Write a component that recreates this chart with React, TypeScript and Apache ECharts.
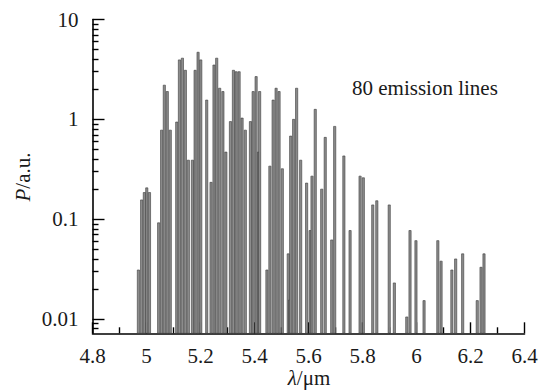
import React, { useEffect, useRef } from "react";
import * as echarts from "echarts";

// Emission line wavelengths (µm) and relative powers (a.u.)
const lambda = [
  4.970, 4.982, 4.992, 5.001, 5.011,
  5.045, 5.056, 5.066, 5.077, 5.088,
  5.112, 5.122, 5.133, 5.144, 5.155, 5.170, 5.180, 5.191, 5.201,
  5.223, 5.239, 5.250, 5.260, 5.271, 5.283, 5.294,
  5.311, 5.322, 5.332, 5.343, 5.354, 5.366,
  5.385, 5.395, 5.406, 5.415, 5.419,
  5.446, 5.457, 5.469, 5.480, 5.491, 5.503,
  5.525, 5.530, 5.534, 5.545, 5.556, 5.571,
  5.593, 5.606, 5.613, 5.625, 5.649, 5.662, 5.686, 5.697,
  5.731, 5.754, 5.791, 5.803, 5.838, 5.853,
  5.899, 5.918, 5.964, 5.976, 5.998, 6.028,
  6.079, 6.091, 6.131, 6.145, 6.171, 6.225, 6.239, 6.250,
];
const power = [
  0.031, 0.156, 0.185, 0.206, 0.185,
  0.092, 0.78, 2.2, 1.9, 0.78,
  0.94, 3.94, 4.1, 3.1, 0.39, 0.39, 3.1, 4.7, 3.94,
  1.56, 0.234, 3.5, 4.1, 2.05, 1.9, 0.47,
  0.95, 3.1, 3.0, 3.0, 1.03, 0.78,
  0.95, 1.9, 2.68, 0.47, 1.9,
  0.031, 0.34, 1.56, 2.05, 1.9, 0.32,
  0.045, 0.0155, 0.68, 1.0, 2.05, 0.39,
  0.23, 0.077, 0.27, 1.26, 0.2, 0.66, 0.062, 0.85,
  0.43, 0.077, 0.27, 0.26, 0.139, 0.153,
  0.139, 0.023, 0.0105, 0.077, 0.061, 0.0153,
  0.061, 0.038, 0.031, 0.040, 0.045, 0.0153, 0.033, 0.045,
];

// Log-axis ticks (decades) and labels
const majorTickValues = [0.01, 0.1, 1, 10];
const majorTickLabels = ["0.01", "0.1", "1", "10"];
const minorMultipliers = [2, 3, 4, 5, 6, 7, 8, 9];
const minorDecades = [0.001, 0.01, 0.1, 1];

const Y_MIN_P = 0.0072;
const Y_MAX_P = 10;

const FONT = "Liberation Serif";
const FS = 21;

export default function App() {
  const ref = useRef<HTMLDivElement>(null);

  useEffect(() => {
    if (!ref.current) return;
    const chart = echarts.init(ref.current, undefined, { renderer: "svg" });

    const yMin = Math.log10(Y_MIN_P);
    const yMax = Math.log10(Y_MAX_P);
    const majorLogs = majorTickValues.map((v) => Math.log10(v));
    const minorLogs: number[] = [];
    minorDecades.forEach((d) =>
      minorMultipliers.forEach((m) => {
        const l = Math.log10(m * d);
        if (l > yMin && l < yMax) minorLogs.push(l);
      })
    );
    const labelFor = (v: number) => {
      const i = majorLogs.findIndex((m) => Math.abs(m - v) < 1e-6);
      return i >= 0 ? majorTickLabels[i] : "";
    };

    const data = lambda.map((x, i) => [x, Math.log10(power[i])]);

    chart.setOption({
      animation: false,
      backgroundColor: "#ffffff",
      grid: { left: 92.5, right: 22.5, top: 19.5, bottom: 56.7, containLabel: false },
      xAxis: {
        type: "value",
        min: 4.8,
        max: 6.4,
        interval: 0.2,
        axisLine: { show: true, onZero: false, lineStyle: { color: "#000", width: 1.6 } },
        axisTick: { show: true, inside: true, length: 11, lineStyle: { color: "#000", width: 1.4 } },
        minorTick: { show: true, splitNumber: 2, length: 6, lineStyle: { color: "#000", width: 1.4 } },
        splitLine: { show: false },
        minorSplitLine: { show: false },
        axisLabel: {
          margin: 12,
          color: "#1a1a1a",
          fontFamily: FONT,
          fontSize: FS,
          formatter: (v: number) => String(+v.toFixed(1)),
        },
      },
      yAxis: [
        {
          type: "value",
          min: yMin,
          max: yMax,
          position: "left",
          axisLine: { show: true, onZero: false, lineStyle: { color: "#000", width: 1.6 } },
          axisTick: {
            show: true,
            inside: true,
            length: 12,
            customValues: majorLogs,
            lineStyle: { color: "#000", width: 1.4 },
          },
          axisLabel: {
            show: true,
            margin: 14,
            customValues: majorLogs,
            formatter: (v: number) => labelFor(v),
            color: "#1a1a1a",
            fontFamily: FONT,
            fontSize: FS,
          },
          splitLine: { show: false },
        },
        {
          type: "value",
          min: yMin,
          max: yMax,
          position: "left",
          offset: 0,
          axisLine: { show: false },
          axisTick: {
            show: true,
            inside: true,
            length: 6,
            customValues: minorLogs,
            lineStyle: { color: "#000", width: 1.4 },
          },
          axisLabel: { show: false },
          splitLine: { show: false },
        },
      ],
      graphic: [
        {
          type: "text",
          x: 352,
          y: 88,
          style: {
            text: "80 emission lines",
            fontFamily: FONT,
            fontSize: FS,
            fill: "#1a1a1a",
            align: "left",
            verticalAlign: "middle",
          },
        },
        {
          type: "text",
          x: 309,
          y: 378,
          style: {
            text: "{i|λ}/μm",
            fontFamily: FONT,
            fontSize: FS,
            fill: "#1a1a1a",
            align: "center",
            verticalAlign: "middle",
            rich: {
              i: { fontStyle: "italic", fontFamily: FONT, fontSize: FS, fill: "#1a1a1a" },
            },
          },
        },
        {
          type: "text",
          x: 23,
          y: 177,
          rotation: Math.PI / 2,
          style: {
            text: "{i|P}/a.u.",
            fontFamily: FONT,
            fontSize: FS,
            fill: "#1a1a1a",
            align: "center",
            verticalAlign: "middle",
            rich: {
              i: { fontStyle: "italic", fontFamily: FONT, fontSize: FS, fill: "#1a1a1a" },
            },
          },
        },
      ],
      series: [
        {
          type: "custom",
          xAxisIndex: 0,
          yAxisIndex: 0,
          data,
          clip: true,
          renderItem: (params: any, api: any) => {
            const x = api.value(0);
            const v = api.value(1);
            const top = api.coord([x, v]);
            const bot = api.coord([x, yMin]);
            const w = 2.2;
            return {
              type: "rect",
              shape: { x: top[0] - w / 2, y: top[1], width: w, height: bot[1] - top[1] },
              style: { fill: "#8c8c8c", stroke: "#3a3a3a", lineWidth: 0.6 },
            };
          },
        },
      ],
    });

    return () => chart.dispose();
  }, []);

  return (
    <div
      ref={ref}
      style={{ position: "fixed", left: 0, top: 0, width: 547, height: 390, background: "#fff" }}
    />
  );
}
